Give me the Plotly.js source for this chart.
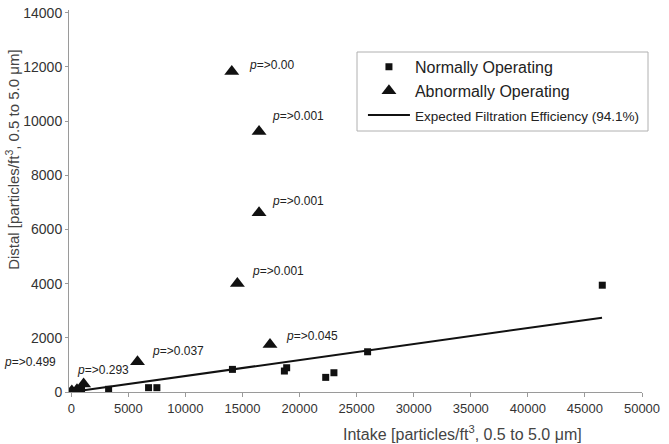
<!DOCTYPE html>
<html>
<head>
<meta charset="utf-8">
<script src="https://cdn.plot.ly/plotly-3.0.1.min.js"></script>
<style>html,body{margin:0;padding:0;background:#fff;}#chart{width:669px;height:444px;}</style>
</head>
<body>
<div id="chart"></div>
<script>
// ---- data ----
var normalX = [150, 450, 900, 3270, 6770, 7500, 14120, 18670, 18870, 22290, 23010, 25960, 46520];
var normalY = [30, 50, 90, 100, 160, 160, 835, 774, 895, 540, 711, 1485, 3942];

var abnormalX = [50, 500, 1080, 5800, 14060, 14550, 16450, 16450, 17410];
var abnormalY = [40, 80, 295, 1117, 11830, 4005, 6620, 9617, 1757];
var pValues   = ["0.499", "", "0.293", "0.037", "0.00", "0.001", "0.001", "0.001", "0.045"];

var expectedX = [0, 46500];
var expectedY = [0, 2744];

var xTicks = [0, 5000, 10000, 15000, 20000, 25000, 30000, 35000, 40000, 45000, 50000];
var yTicks = [0, 2000, 4000, 6000, 8000, 10000, 12000, 14000];

// ---- label placement (pixel offsets from each triangle) ----
var labelShift = [
  {dx: -14, dy: 29, anchor: "right"},
  null,
  {dx: -9, dy: 14, anchor: "left"},
  {dx: 13, dy: 11, anchor: "left"},
  {dx: 15, dy: 7, anchor: "left"},
  {dx: 13, dy: 13, anchor: "left"},
  {dx: 11, dy: 12, anchor: "left"},
  {dx: 11, dy: 15, anchor: "left"},
  {dx: 14, dy: 8, anchor: "left"}
];

var FONT = "Liberation Sans, Arial, Helvetica, sans-serif";

var traces = [
  {
    x: normalX, y: normalY, type: "scatter", mode: "markers",
    name: "<span style=\"font-size:16px\">Normally Operating</span>",
    marker: {symbol: "square", size: 7, color: "#111"}
  },
  {
    x: abnormalX, y: abnormalY, type: "scatter", mode: "markers",
    name: "<span style=\"font-size:16px\">Abnormally Operating</span>",
    marker: {symbol: "triangle-up", size: 13, color: "#111"}
  },
  {
    x: expectedX, y: expectedY, type: "scatter", mode: "lines",
    name: "<span style=\"font-size:13.5px\">Expected Filtration Efficiency (94.1%)</span>",
    line: {color: "#111", width: 2}
  }
];

var annotations = [];
for (var i = 0; i < abnormalX.length; i++) {
  if (!pValues[i]) continue;
  var s = labelShift[i];
  annotations.push({
    x: abnormalX[i], y: abnormalY[i], xref: "x", yref: "y",
    text: "<i>p</i>=>" + pValues[i], showarrow: false,
    xanchor: s.anchor, yanchor: "middle", xshift: s.dx, yshift: s.dy,
    font: {family: FONT, size: 12, color: "#222"}
  });
}
// axis titles
annotations.push({
  xref: "paper", yref: "paper", x: 0.6876, y: -0.107,
  text: "Intake [particles/ft<sup>3</sup>, 0.5 to 5.0 \u03bcm]", showarrow: false,
  xanchor: "center", yanchor: "middle",
  font: {family: FONT, size: 16, color: "#444"}
});
annotations.push({
  xref: "paper", yref: "paper", x: -0.1, y: 0.607,
  text: "Distal [particles/ft<sup>3</sup>, 0.5 to 5.0 \u03bcm]", showarrow: false,
  textangle: -90, xanchor: "center", yanchor: "middle",
  font: {family: FONT, size: 15, color: "#444"}
});

var layout = {
  width: 669, height: 444,
  margin: {l: 69, r: 27, t: 10, b: 52},
  paper_bgcolor: "#fff", plot_bgcolor: "#fff",
  font: {family: FONT, size: 13, color: "#333"},
  showlegend: true,
  legend: {
    x: 0.513, y: 0.896, xanchor: "left", yanchor: "top",
    bgcolor: "rgba(0,0,0,0)", borderwidth: 0,
    font: {family: FONT, size: 16.2, color: "#222"},
    itemwidth: 42,
    tracegroupgap: 0
  },
  xaxis: {
    range: [-200, 50000], tickvals: xTicks, ticktext: xTicks.map(String),
    showgrid: false, zeroline: false, showline: true, linecolor: "#9a9a9a", linewidth: 1,
    ticks: "outside", ticklen: 4, tickcolor: "#9a9a9a",
    tickfont: {family: FONT, size: 13, color: "#333"}
  },
  yaxis: {
    range: [0, 14100], tickvals: yTicks, ticktext: yTicks.map(String),
    showgrid: false, zeroline: false, showline: true, linecolor: "#9a9a9a", linewidth: 1,
    ticks: "outside", ticklen: 3, tickcolor: "#9a9a9a",
    tickfont: {family: FONT, size: 14, color: "#333"}
  },
  shapes: [{
    type: "rect", xref: "paper", yref: "paper",
    x0: (357 - 69) / 573, x1: (648 - 69) / 573,
    y0: (392 - 131) / 382, y1: (392 - 52) / 382,
    line: {color: "#b0b0b0", width: 1}, fillcolor: "rgba(0,0,0,0)"
  }],
  annotations: annotations
};

Plotly.newPlot("chart", traces, layout, {displayModeBar: false, staticPlot: true});
</script>
</body>
</html>
